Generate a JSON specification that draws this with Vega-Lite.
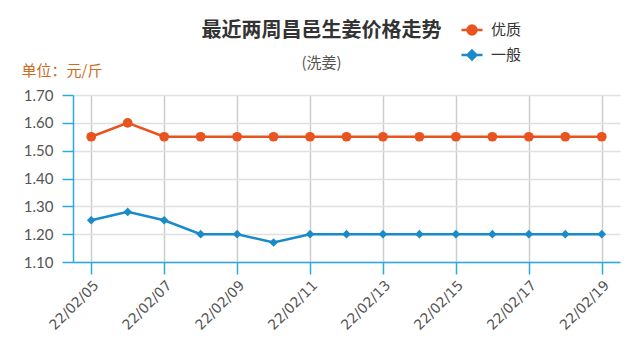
{
  "$schema": "https://vega.github.io/schema/vega-lite/v6.json",
  "width": 547,
  "height": 167,
  "autosize": {"type": "none"},
  "padding": {"left": 73, "top": 95, "right": 20, "bottom": 98},
  "background": "white",
  "title": {
    "text": "最近两周昌邑生姜价格走势",
    "subtitle": "(洗姜)",
    "anchor": "middle",
    "frame": "group",
    "dx": -25,
    "offset": -53,
    "font": "Noto Sans CJK SC",
    "fontSize": 20,
    "fontWeight": "bold",
    "color": "#333333",
    "subtitleFont": "Noto Sans CJK SC",
    "subtitleFontSize": 15,
    "subtitleColor": "#555555",
    "subtitlePadding": 15
  },
  "config": {
    "view": {"stroke": null},
    "font": "Lato"
  },
  "data": {
    "values": [
      {"date": "22/02/05", "series": "优质", "price": 1.55},
      {"date": "22/02/06", "series": "优质", "price": 1.60},
      {"date": "22/02/07", "series": "优质", "price": 1.55},
      {"date": "22/02/08", "series": "优质", "price": 1.55},
      {"date": "22/02/09", "series": "优质", "price": 1.55},
      {"date": "22/02/10", "series": "优质", "price": 1.55},
      {"date": "22/02/11", "series": "优质", "price": 1.55},
      {"date": "22/02/12", "series": "优质", "price": 1.55},
      {"date": "22/02/13", "series": "优质", "price": 1.55},
      {"date": "22/02/14", "series": "优质", "price": 1.55},
      {"date": "22/02/15", "series": "优质", "price": 1.55},
      {"date": "22/02/16", "series": "优质", "price": 1.55},
      {"date": "22/02/17", "series": "优质", "price": 1.55},
      {"date": "22/02/18", "series": "优质", "price": 1.55},
      {"date": "22/02/19", "series": "优质", "price": 1.55},
      {"date": "22/02/05", "series": "一般", "price": 1.25},
      {"date": "22/02/06", "series": "一般", "price": 1.28},
      {"date": "22/02/07", "series": "一般", "price": 1.25},
      {"date": "22/02/08", "series": "一般", "price": 1.20},
      {"date": "22/02/09", "series": "一般", "price": 1.20},
      {"date": "22/02/10", "series": "一般", "price": 1.17},
      {"date": "22/02/11", "series": "一般", "price": 1.20},
      {"date": "22/02/12", "series": "一般", "price": 1.20},
      {"date": "22/02/13", "series": "一般", "price": 1.20},
      {"date": "22/02/14", "series": "一般", "price": 1.20},
      {"date": "22/02/15", "series": "一般", "price": 1.20},
      {"date": "22/02/16", "series": "一般", "price": 1.20},
      {"date": "22/02/17", "series": "一般", "price": 1.20},
      {"date": "22/02/18", "series": "一般", "price": 1.20},
      {"date": "22/02/19", "series": "一般", "price": 1.20}
    ]
  },
  "encoding": {
    "x": {
      "field": "date",
      "type": "ordinal",
      "sort": null,
      "scale": {"type": "point", "padding": 0.5},
      "axis": {
        "title": null,
        "values": ["22/02/05", "22/02/07", "22/02/09", "22/02/11", "22/02/13", "22/02/15", "22/02/17", "22/02/19"],
        "labelAngle": -45,
        "labelFontSize": 14,
        "labelColor": "#555555",
        "labelFont": "DejaVu Sans",
        "labelPadding": 4,
        "domainColor": "#29abe2",
        "domainWidth": 1.5,
        "tickColor": "#29abe2",
        "tickWidth": 1.5,
        "tickSize": 12,
        "grid": true,
        "gridColor": "#cccccc",
        "gridWidth": 1.5
      }
    },
    "y": {
      "field": "price",
      "type": "quantitative",
      "scale": {"domain": [1.1, 1.7], "zero": false, "nice": false},
      "axis": {
        "values": [1.1, 1.2, 1.3, 1.4, 1.5, 1.6, 1.7],
        "format": ".2f",
        "labelFontSize": 15,
        "labelColor": "#555555",
        "labelPadding": 9,
        "domainColor": "#29abe2",
        "domainWidth": 1.5,
        "tickColor": "#29abe2",
        "tickWidth": 1.5,
        "tickSize": 11,
        "gridColor": "#e0e0e0",
        "gridWidth": 1.5,
        "title": "单位：元/斤",
        "titleFont": "Noto Sans CJK SC",
        "titleFontSize": 15,
        "titleFontWeight": "normal",
        "titleColor": "#cc6a1f",
        "titleAngle": 0,
        "titleAlign": "left",
        "titleBaseline": "alphabetic",
        "titleX": -52,
        "titleY": -20
      }
    }
  },
  "layer": [
    {
      "mark": {"type": "line", "strokeWidth": 2.5},
      "encoding": {
        "color": {
          "field": "series",
          "type": "nominal",
          "scale": {"domain": ["优质", "一般"], "range": ["#e8531f", "#1a8bc9"]},
          "legend": {
            "title": null,
            "orient": "none",
            "legendX": 387,
            "legendY": -77,
            "direction": "vertical",
            "rowPadding": 3,
            "labelFont": "Noto Sans CJK SC",
            "labelFontSize": 15,
            "labelColor": "#333333",
            "labelOffset": 7,
            "symbolSize": 441,
            "symbolStrokeWidth": 2.5,
            "encode": {
              "symbols": {
                "update": {
                  "shape": {"signal": "datum.value === '优质' ? 'M-1,0L1,0M0.42,0A0.42,0.42,0,1,1,-0.42,0A0.42,0.42,0,1,1,0.42,0Z' : 'M-1,0L1,0M0,-0.42L0.42,0L0,0.42L-0.42,0Z'"},
                  "fill": {"signal": "datum.value === '优质' ? '#e8531f' : '#1a8bc9'"},
                  "stroke": {"signal": "datum.value === '优质' ? '#e8531f' : '#1a8bc9'"},
                  "strokeWidth": {"value": 2.5},
                  "size": {"value": 441},
                  "opacity": {"value": 1}
                }
              }
            }
          }
        }
      }
    },
    {
      "transform": [{"filter": "datum.series === '优质'"}],
      "mark": {"type": "point", "filled": true, "opacity": 1, "shape": "circle", "size": 95, "color": "#e8531f"}
    },
    {
      "transform": [{"filter": "datum.series === '一般'"}],
      "mark": {"type": "point", "filled": true, "opacity": 1, "shape": "diamond", "size": 75, "color": "#1a8bc9"}
    }
  ]
}
